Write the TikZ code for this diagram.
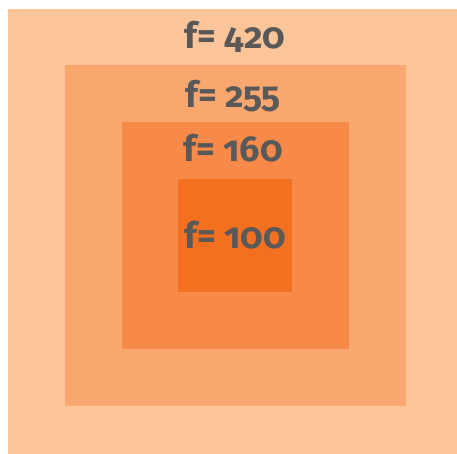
\documentclass[tikz,border=0pt]{standalone}
\usepackage{fontspec}
\setmainfont[Numbers=OldStyle]{Fira Sans}
\definecolor{c1}{HTML}{FBC499}
\definecolor{c2}{HTML}{F9A66F}
\definecolor{c3}{HTML}{F78A48}
\definecolor{c4}{HTML}{F37021}
\definecolor{txt}{HTML}{595959}
\begin{document}
\begin{tikzpicture}[x=1pt,y=-1pt,
  lbl/.style={text=txt,font=\fontsize{36}{40}\selectfont\bfseries,anchor=base,inner sep=0pt}]
\useasboundingbox (0,0) rectangle (457,454);
\fill[c1] (8,9) rectangle (457,454);
\fill[c2] (65,65) rectangle (406,406);
\fill[c3] (122,122) rectangle (349,349);
\fill[c4] (178,179) rectangle (292,292);
\node[lbl] (t1) at (235,49) {f= 420};
\node[lbl] (t2) at (233,108) {f= 255};
\node[lbl] (t3) at (233,162) {f= 160};
\node[lbl] (t4) at (235,248) {f= 100};
\end{tikzpicture}
\end{document}
